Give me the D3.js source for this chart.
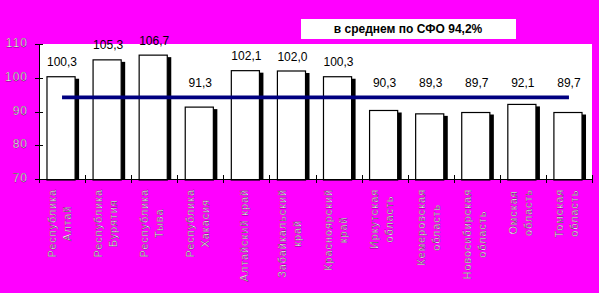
<!DOCTYPE html>
<html>
<head>
<meta charset="utf-8">
<script src="https://cdn.jsdelivr.net/npm/d3@7"></script>
<style>
  body { margin: 0; background: #ff00ff; }
  svg { display: block; font-family: Arial, "Liberation Sans", sans-serif; }
</style>
</head>
<body>
<div id="chart"></div>
<script>
// regions of the Siberian federal district, "|" marks a line break
const regions = [
  "Республика|Алтай",
  "Республика|Бурятия",
  "Республика|Тыва",
  "Республика|Хакасия",
  "Алтайский край",
  "Забайкальский|край",
  "Красноярский|край",
  "Иркутская|область",
  "Кемеровская|область",
  "Новосибирская|область",
  "Омская|область",
  "Томская|область",
];
const values = [100.3, 105.3, 106.7, 91.3, 102.1, 102.0, 100.3, 90.3, 89.3, 89.7, 92.1, 89.7];
const average = 94.2;
const yTicks = [70, 80, 90, 100, 110];
const title = "в среднем по СФО 94,2%";

const W = 599, H = 293;
const plot = { left: 39, right: 592, top: 44, bottom: 179 };

const svg = d3.select("#chart").append("svg").attr("width", W).attr("height", H);

svg.append("rect").attr("width", W).attr("height", H).attr("fill", "#ff00ff");

// white plot area
svg.append("rect")
  .attr("x", plot.left).attr("y", plot.top)
  .attr("width", plot.right - plot.left).attr("height", plot.bottom - plot.top)
  .attr("fill", "#fff");

const x = d3.scaleBand().domain(d3.range(values.length))
  .range([plot.left, plot.right]).paddingInner(0.39).paddingOuter(0.195);
const xStep = (plot.right - plot.left) / values.length;
const xc = (i) => plot.left + xStep * (i + 0.5);
const y = d3.scaleLinear().domain([70, 110]).range([plot.bottom, plot.top]);

// bars: black shadow first, then white bar with black border
const bars = svg.append("g").selectAll("g").data(values).join("g");
bars.append("rect")
  .attr("x", (d, i) => x(i) - 1 + 4)
  .attr("y", (d) => y(d) + 2)
  .attr("width", x.bandwidth())
  .attr("height", (d) => plot.bottom - y(d) - 2)
  .attr("fill", "#000");
bars.append("rect")
  .attr("x", (d, i) => x(i) - 1)
  .attr("y", (d) => y(d))
  .attr("width", x.bandwidth())
  .attr("height", (d) => plot.bottom - y(d) + 1)
  .attr("fill", "#fff")
  .attr("stroke", "#000")
  .attr("stroke-width", 1.2);

// average line, from first to last category centre
svg.append("line")
  .attr("x1", xc(0)).attr("x2", xc(values.length - 1))
  .attr("y1", y(average)).attr("y2", y(average))
  .attr("stroke", "#000080").attr("stroke-width", 3.6);

// value labels, kept above the average line
const fmt = (v) => d3.format(".1f")(v).replace(".", ",");
svg.append("g").selectAll("text").data(values).join("text")
  .attr("x", (d, i) => xc(i))
  .attr("y", (d) => Math.min(y(d) - 10.5, y(average) - 10))
  .attr("text-anchor", "middle")
  .attr("font-size", 12)
  .attr("fill", "#000")
  .text(fmt);

// the dithered white/black look of the axis text
const axisText = (t) => t
  .attr("fill", "#fff").attr("stroke", "#000").attr("stroke-width", 0.25);

// y axis
svg.append("line")
  .attr("x1", plot.left + 0.5).attr("x2", plot.left + 0.5)
  .attr("y1", plot.top).attr("y2", plot.bottom + 4)
  .attr("stroke", "#000");
svg.append("g").selectAll("line").data(yTicks).join("line")
  .attr("x1", plot.left - 4).attr("x2", plot.left + 4)
  .attr("y1", (d) => Math.round(y(d)) + 0.5).attr("y2", (d) => Math.round(y(d)) + 0.5)
  .attr("stroke", "#000");
svg.append("g").selectAll("text").data(yTicks).join("text")
  .attr("x", 28).attr("y", (d) => y(d) + 3)
  .attr("text-anchor", "end")
  .attr("font-size", 12)
  .attr("letter-spacing", 1)
  .call(axisText)
  .text((d) => d);

// x axis line and boundary ticks
svg.append("line")
  .attr("x1", plot.left).attr("x2", plot.right + 1)
  .attr("y1", plot.bottom + 0.5).attr("y2", plot.bottom + 0.5)
  .attr("stroke", "#000");
svg.append("g").selectAll("line").data(d3.range(values.length + 1)).join("line")
  .attr("x1", (d) => Math.round(plot.left + xStep * d) + 0.5)
  .attr("x2", (d) => Math.round(plot.left + xStep * d) + 0.5)
  .attr("y1", plot.bottom - 4).attr("y2", plot.bottom + 4)
  .attr("stroke", "#000");

// rotated category labels, each block top-aligned below the axis
const labels = svg.append("g").selectAll("g").data(regions).join("g");
labels.each(function (d, i) {
  const g = d3.select(this);
  const lines = d.split("|");
  const texts = lines.map((t) =>
    g.append("text")
      .attr("text-anchor", "middle")
      .attr("dy", "0.35em")
      .attr("font-size", 11)
      .attr("letter-spacing", 0.9)
      .call(axisText)
      .text(t)
  );
  const maxLen = d3.max(texts, (t) => t.node().getComputedTextLength());
  texts.forEach((t, j) => {
    const lx = xc(i) - 2.5 + (j - (lines.length - 1) / 2) * 15;
    t.attr("transform", `translate(${lx},${189 + maxLen / 2}) rotate(-90)`);
  });
});

// title box
svg.append("rect")
  .attr("x", 301).attr("y", 19).attr("width", 215).attr("height", 20)
  .attr("fill", "#fff");
svg.append("text")
  .attr("x", 408).attr("y", 33)
  .attr("text-anchor", "middle")
  .attr("font-size", 12).attr("font-weight", "bold")
  .attr("fill", "#000")
  .text(title);
</script>
</body>
</html>
